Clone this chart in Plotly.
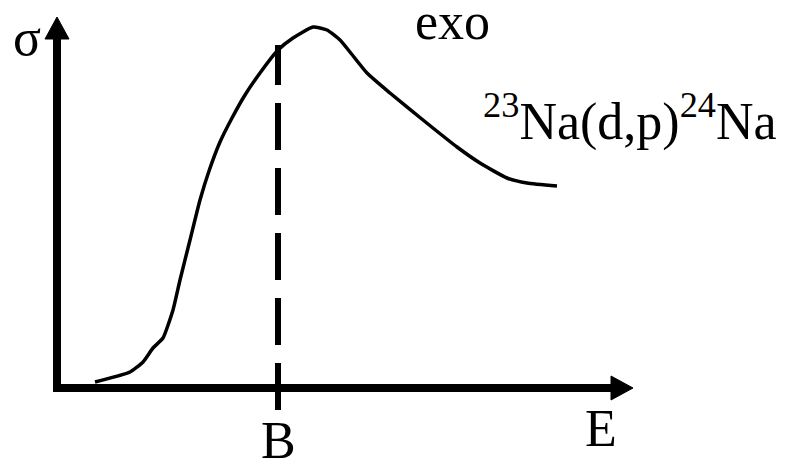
import plotly.graph_objects as go

# Schematic excitation curve sigma(E), in arbitrary units (origin at axis corner)
energy = [0.76, 1.46, 1.72, 1.92, 2.12, 2.32, 2.46, 2.66, 2.86, 3.04, 3.26, 3.50, 3.76,
          4.06, 4.42, 4.72, 5.12, 5.40, 5.66, 5.86, 6.20, 6.66, 7.32, 8.00, 8.46,
          9.00, 9.40, 10.00]
sigma = [0.12, 0.32, 0.52, 0.80, 1.00, 1.56, 2.16, 2.96, 3.76, 4.34, 4.92, 5.40, 5.86,
         6.30, 6.76, 7.00, 7.22, 7.16, 6.96, 6.72, 6.30, 5.90, 5.36, 4.82, 4.50,
         4.20, 4.10, 4.04]

barrier_E = 4.42          # position of B
barrier_span = [-0.44, 6.86]
x_axis_end = 11.52
y_axis_end = 7.42
head_len = 0.44
head_half = 0.24

labels = {
    "sigma": "σ",
    "E": "E",
    "B": "B",
    "exo": "exo",
    "reaction": "<sup>23</sup>Na(d,p)<sup>24</sup>Na",
}

FONT = "Liberation Serif"
fig = go.Figure()

# curve
fig.add_trace(go.Scatter(x=energy, y=sigma, mode="lines",
                         line=dict(color="black", width=3.5, shape="spline", smoothing=0.5),
                         hoverinfo="skip"))
# dashed barrier line
fig.add_trace(go.Scatter(x=[barrier_E, barrier_E], y=barrier_span, mode="lines",
                         line=dict(color="black", width=6, dash="47px,18px"),
                         hoverinfo="skip"))

# axes
fig.add_shape(type="line", x0=0, x1=0, y0=-0.08, y1=y_axis_end - head_len,
              line=dict(color="black", width=8))
fig.add_shape(type="line", x0=-0.08, x1=x_axis_end - head_len, y0=0, y1=0,
              line=dict(color="black", width=8))
# arrow heads
fig.add_trace(go.Scatter(x=[-head_half, 0, head_half, -head_half],
                         y=[y_axis_end - head_len, y_axis_end, y_axis_end - head_len, y_axis_end - head_len],
                         mode="lines", fill="toself", fillcolor="black",
                         line=dict(color="black", width=1), hoverinfo="skip"))
fig.add_trace(go.Scatter(x=[x_axis_end - head_len, x_axis_end, x_axis_end - head_len, x_axis_end - head_len],
                         y=[-head_half, 0, head_half, -head_half],
                         mode="lines", fill="toself", fillcolor="black",
                         line=dict(color="black", width=1), hoverinfo="skip"))

def ann(text, x, y, xanchor="center", yanchor="middle", size=52):
    fig.add_annotation(text=text, x=x, y=y, xref="x", yref="y", showarrow=False,
                       xanchor=xanchor, yanchor=yanchor,
                       font=dict(family=FONT, size=size, color="black"))

ann(labels["sigma"], -0.60, 7.02)
ann(labels["E"], 10.88, -0.80)
ann(labels["B"], barrier_E, -1.04)
ann(labels["exo"], 7.91, 7.34)
ann(labels["reaction"], 8.48, 5.40, xanchor="left")

fig.update_layout(
    width=786, height=461,
    margin=dict(l=0, r=0, t=0, b=0),
    paper_bgcolor="white", plot_bgcolor="white",
    showlegend=False,
    xaxis=dict(range=[-1.14, 14.58], visible=False, fixedrange=True),
    yaxis=dict(range=[-1.46, 7.76], visible=False, fixedrange=True),
)

fig.write_html("out.html", config={"displayModeBar": False},
               post_script="document.body.style.margin='0';document.body.style.overflow='hidden';")
